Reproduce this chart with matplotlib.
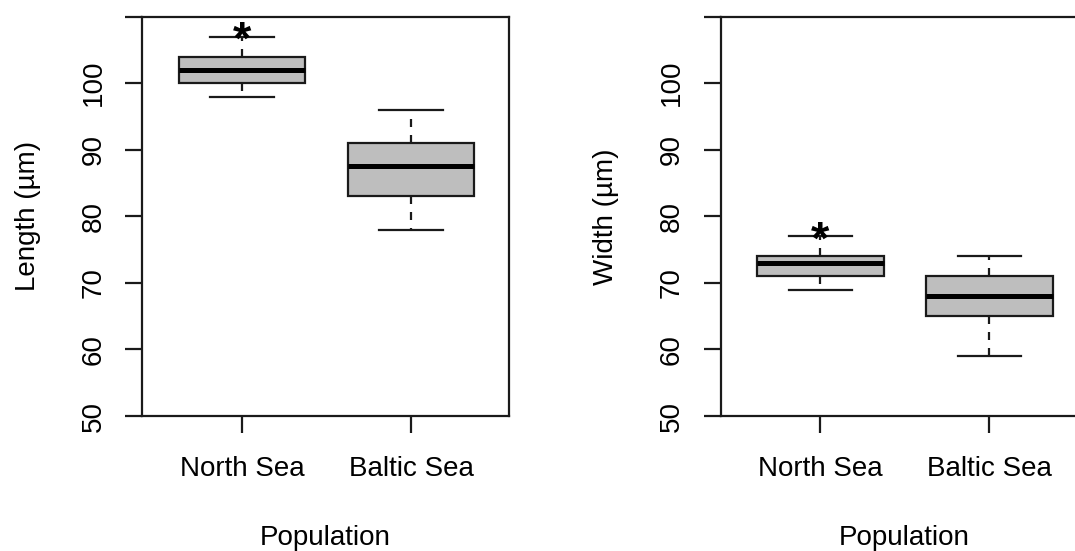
import matplotlib
matplotlib.use('Agg')
import matplotlib.pyplot as plt

plt.rcParams['font.family'] = ['Liberation Sans', 'DejaVu Sans']

# ---- data ----
populations = ['North Sea', 'Baltic Sea']

length_whislo = [98, 78]
length_q1 = [100, 83]
length_med = [102, 87.5]
length_q3 = [104, 91]
length_whishi = [107, 96]
length_star = [108.5, None]

width_whislo = [69, 59]
width_q1 = [71, 65]
width_med = [73, 68]
width_q3 = [74, 71]
width_whishi = [77, 74]
width_star = [78.5, None]

y_ticks = [50, 60, 70, 80, 90, 100, 110]
y_ticklabels = ['50', '60', '70', '80', '90', '100', '']

# ---- style ----
FS = 20
LW = 1.6
BOX_FACE = '#BEBEBE'
EDGE = '#1a1a1a'
W, H = 1075, 551


def make_stats(lo, q1, med, q3, hi, labels):
    return [dict(whislo=a, q1=b, med=c, q3=d, whishi=e, label=l, fliers=[])
            for a, b, c, d, e, l in zip(lo, q1, med, q3, hi, labels)]


def draw_panel(ax, stats, stars, ylabel):
    ax.bxp(stats, positions=[1, 2], widths=0.75, capwidths=0.375,
           patch_artist=True, showfliers=False,
           boxprops=dict(facecolor=BOX_FACE, edgecolor=EDGE, linewidth=LW),
           medianprops=dict(color='black', linewidth=3.6, solid_capstyle='butt'),
           whiskerprops=dict(color=EDGE, linewidth=LW, linestyle=(0, (3.6, 3.6))),
           capprops=dict(color=EDGE, linewidth=LW))
    for pos, s in zip([1, 2], stars):
        if s is not None:
            fs_star = 34
            ax.annotate('*', xy=(pos, s), xytext=(0, -0.575 * fs_star),
                        textcoords='offset points', ha='center', va='baseline',
                        fontsize=fs_star, fontweight='bold', color='black',
                        annotation_clip=False)
    ax.set_xlim(0.41, 2.58)
    ax.set_ylim(50, 110)
    ax.set_yticks(y_ticks)
    ax.set_yticklabels(y_ticklabels, rotation=90, va='center', fontsize=FS)
    ax.set_xticks([1, 2])
    ax.set_xticklabels(populations, fontsize=FS)
    ax.tick_params(direction='out', length=12.2, width=LW, color=EDGE)
    ax.tick_params(axis='x', pad=16.5)
    ax.tick_params(axis='y', pad=13.5)
    for sp in ax.spines.values():
        sp.set_linewidth(LW)
        sp.set_color(EDGE)
    ax.set_ylabel(ylabel, fontsize=FS, labelpad=28.5)
    ax.set_xlabel('Population', fontsize=FS, labelpad=31)


fig = plt.figure(figsize=(W / 100, H / 100), dpi=100)
ax1 = fig.add_axes([142.3 / W, 135 / H, 366.7 / W, 399.3 / H])
ax2 = fig.add_axes([720.7 / W, 135 / H, 366.7 / W, 399.3 / H])

draw_panel(ax1, make_stats(length_whislo, length_q1, length_med, length_q3,
                           length_whishi, populations),
           length_star, 'Length (µm)')
draw_panel(ax2, make_stats(width_whislo, width_q1, width_med, width_q3,
                           width_whishi, populations),
           width_star, 'Width (µm)')

fig.savefig('out.png', dpi=100)
